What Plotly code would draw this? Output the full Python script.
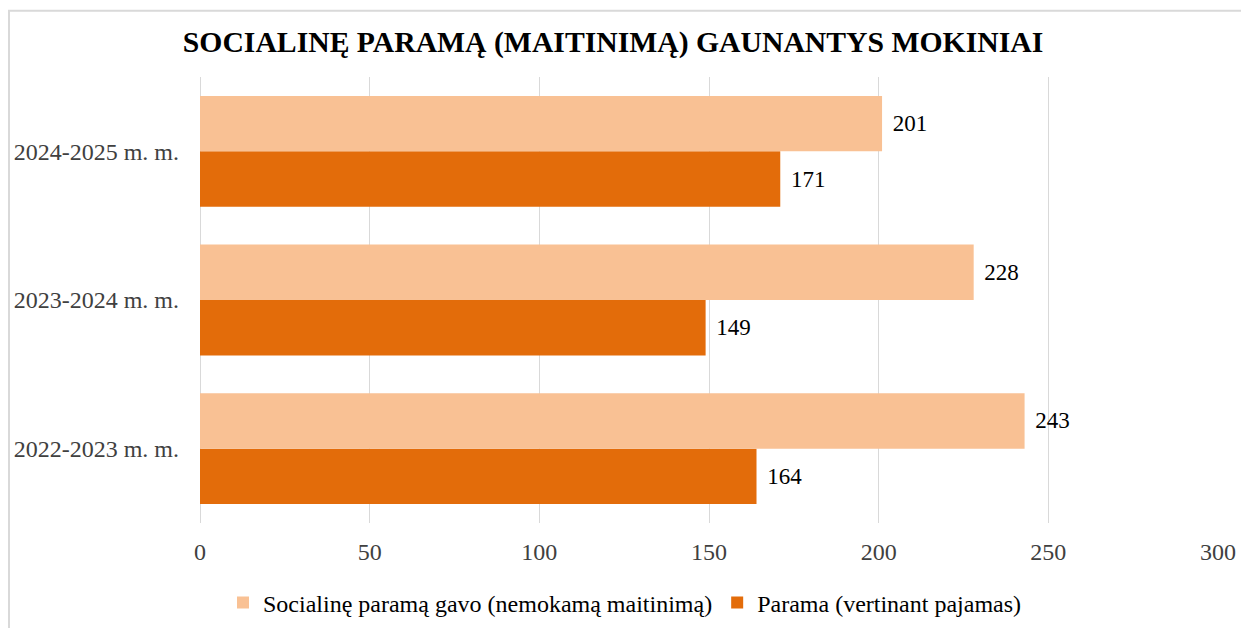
import plotly.graph_objects as go

years = ['2022-2023 m. m.', '2023-2024 m. m.', '2024-2025 m. m.']
social_meals = [243, 228, 201]
income_based = [164, 149, 171]

series_names = ['Socialinę paramą gavo (nemokamą maitinimą)', 'Parama (vertinant pajamas)']
light_orange = '#F9C194'
dark_orange = '#E36C0A'
serif = 'Liberation Serif, Times New Roman, serif'

# the page body adds an 8px margin, so the figure is sized to fill the rest of the window
fig_w, fig_h = 1233, 620

fig = go.Figure()

# dark bar added first so it sits below the light one inside each group
for values, name, color, rank in [
    (income_based, series_names[1], dark_orange, 2),
    (social_meals, series_names[0], light_orange, 1),
]:
    fig.add_trace(
        go.Bar(
            y=years,
            x=values,
            name=name,
            orientation='h',
            marker=dict(color=color, line=dict(width=0)),
            text=values,
            texttemplate='\u2004%{text}',
            textposition='outside',
            textfont=dict(family=serif, size=23, color='#000000'),
            cliponaxis=False,
            legendrank=rank,
        )
    )

fig.update_layout(
    width=fig_w,
    height=fig_h,
    barmode='group',
    bargap=0.255,
    bargroupgap=0,
    paper_bgcolor='white',
    plot_bgcolor='white',
    font=dict(family=serif, size=24, color='#000000'),
    margin=dict(l=192, r=23, t=68.5, b=104.5),
    title=dict(
        text='<b>SOCIALINĘ PARAMĄ (MAITINIMĄ) GAUNANTYS MOKINIAI</b>',
        font=dict(family=serif, size=29.7, color='#000000'),
        xref='container',
        x=605 / fig_w,
        xanchor='center',
        yref='container',
        y=1 - 34 / fig_h,
        yanchor='middle',
    ),
    xaxis=dict(
        range=[0, 300],
        dtick=50,
        showgrid=True,
        gridcolor='#D9D9D9',
        gridwidth=1,
        zeroline=True,
        zerolinecolor='#D9D9D9',
        zerolinewidth=1,
        showline=False,
        ticks='',
        ticklabelstandoff=12,
        automargin=False,
        tickfont=dict(family=serif, size=24, color='#404040'),
    ),
    yaxis=dict(
        showgrid=False,
        showline=False,
        ticks='',
        ticklabelstandoff=20,
        automargin=False,
        tickfont=dict(family=serif, size=24, color='#404040'),
    ),
    legend=dict(
        orientation='h',
        xref='container',
        x=617 / fig_w,
        xanchor='center',
        yref='container',
        y=1 - 595 / fig_h,
        yanchor='middle',
        font=dict(family=serif, size=24, color='#000000'),
        itemwidth=30,
        tracegroupgap=0,
    ),
    shapes=[
        dict(
            type='rect',
            xref='paper',
            yref='paper',
            x0=-192 / 1018 + 0.001,
            x1=1.2,
            y0=-0.5,
            y1=(447 + 68.5 - 2) / 447,
            line=dict(color='#D9D9D9', width=2),
            fillcolor='rgba(0,0,0,0)',
            layer='below',
        )
    ],
)

fig.write_html('out.html')
